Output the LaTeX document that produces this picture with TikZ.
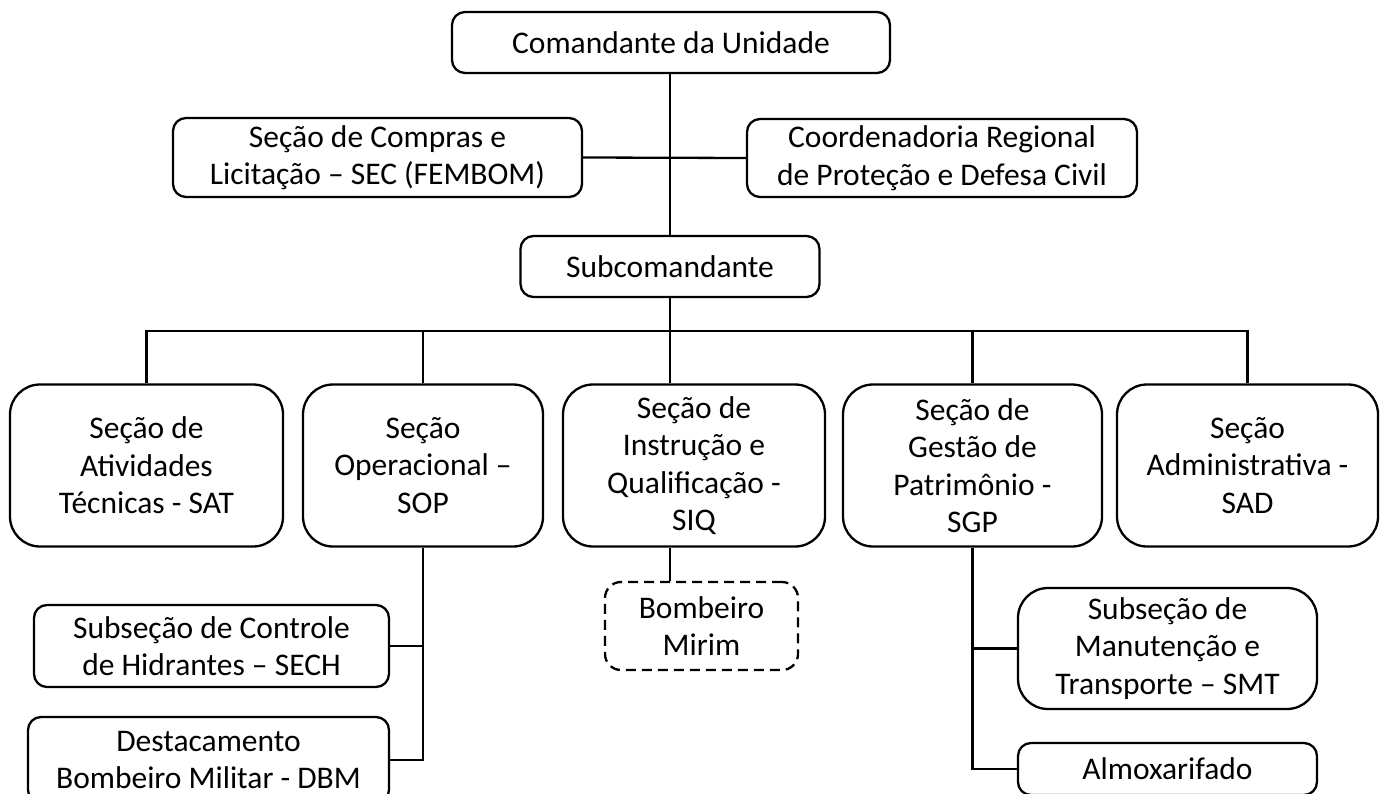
\documentclass[tikz,border=0pt]{standalone}
\usepackage{fontspec}
\setmainfont{Carlito}
\begin{document}
\begin{tikzpicture}[x=1pt,y=-1pt,
  base/.style={draw=black, line width=2.3pt, align=center, inner sep=0pt,
    font=\fontsize{31.5}{37.5}\selectfont},
  bigbox/.style={base, rounded corners=30pt},
  smallbox/.style={base, rounded corners=13pt},
  dashbox/.style={base, rounded corners=16pt, dash pattern=on 10pt off 6pt},
  conn/.style={line width=2.3pt}]
\useasboundingbox (0,0) rectangle (1388,794);
\clip (0,0) rectangle (1388,794);
\node[smallbox, minimum width=438pt, minimum height=61pt] (cmd) at (671,42.5) {Comandante da Unidade};
\node[smallbox, minimum width=409pt, minimum height=79pt] (comp) at (377.5,157.5) {Seção de Compras e\\Licitação – SEC (FEMBOM)};
\node[smallbox, minimum width=390pt, minimum height=78pt] (coord) at (942,158) {Coordenadoria Regional\\de Proteção e Defesa Civil};
\node[smallbox, minimum width=299pt, minimum height=61pt] (sub) at (670,266.5) {Subcomandante};
\node[bigbox, minimum width=273pt, minimum height=162pt] (sat) at (146.5,465.5) {Seção de\\Atividades\\Técnicas - SAT};
\node[bigbox, minimum width=240pt, minimum height=162pt] (sop) at (423,465.5) {Seção\\Operacional –\\SOP};
\node[bigbox, minimum width=262pt, minimum height=162pt] (siq) at (694,465.5) {Seção de\\Instrução e\\Qualificação -\\SIQ};
\node[bigbox, minimum width=259pt, minimum height=162pt] (sgp) at (972.5,465.5) {Seção de\\Gestão de\\Patrimônio -\\SGP};
\node[bigbox, minimum width=261pt, minimum height=162pt] (adm) at (1247.5,465.5) {Seção\\Administrativa -\\SAD};
\node[dashbox, minimum width=193pt, minimum height=88pt] (mirim) at (701.5,626) {Bombeiro\\Mirim};
\node[smallbox, minimum width=355pt, minimum height=82pt] (sech) at (211.5,646) {Subseção de Controle\\de Hidrantes – SECH};
\node[smallbox, minimum width=361pt, minimum height=86pt] (dbm) at (208.5,760) {Destacamento\\Bombeiro Militar - DBM};
\node[bigbox, minimum width=299pt, minimum height=121pt] (smt) at (1167.5,648.5) {Subseção de\\Manutenção e\\Transporte – SMT};
\node[smallbox, minimum width=299pt, minimum height=52pt] (alm) at (1167.5,769) {Almoxarifado};
\coordinate (bus) at (670,331);
% top chain
\draw[conn] (cmd.south -| sub.north) -- (sub.north);
\draw[conn] (comp.east) -- (coord.west);
\draw[conn] (sub.south) -- (sub.south |- siq.north);
% bus
\draw[conn] (sat.north) -- (sat.north |- bus) -- (adm.north |- bus) -- (adm.north);
\draw[conn] (sop.north) -- (sop.north |- bus);
\draw[conn] (sgp.north) -- (sgp.north |- bus);
% SIQ to Mirim
\draw[conn] (sub.south |- siq.south) -- (sub.south |- mirim.north);
% SOP branch
\draw[conn] (sop.south) -- (sop.south |- dbm.east) -- (dbm.east);
\draw[conn] (sech.east) -- (sech.east -| sop.south);
% SGP branch
\draw[conn] (sgp.south) -- (sgp.south |- alm.west) -- (alm.west);
\draw[conn] (smt.west) -- (smt.west -| sgp.south);
\end{tikzpicture}
\end{document}
